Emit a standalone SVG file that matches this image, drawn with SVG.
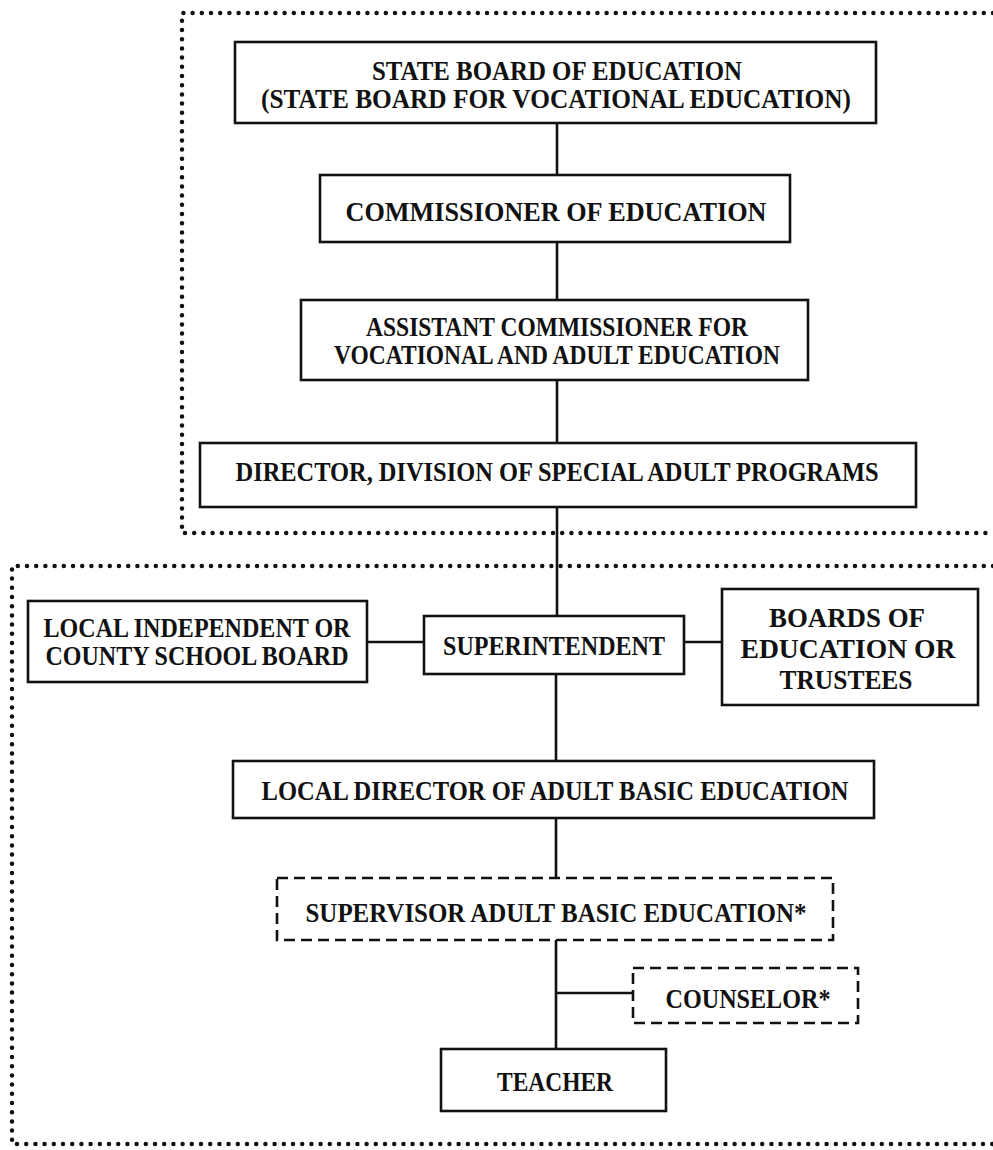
<svg xmlns="http://www.w3.org/2000/svg" width="993" height="1150" viewBox="0 0 993 1150">
<style>
.bg{fill:#fff}
.box{fill:#fff;stroke:#111;stroke-width:2.6}
.dbox{fill:#fff;stroke:#111;stroke-width:2.6;stroke-dasharray:11 6}
.dot{fill:none;stroke:#111;stroke-width:4.5;stroke-linecap:round;stroke-dasharray:0 9.2}
.ln{fill:none;stroke:#111;stroke-width:2.6}
text{font-family:"Liberation Serif","Times New Roman",serif;font-weight:bold;font-size:27px;fill:#111;text-anchor:middle}
.big{font-size:28px}
</style>
<rect class="bg" x="0" y="0" width="993" height="1150"/>
<g id="regions">
<path class="dot" d="M993 13 H182 V533 H993"/>
<path class="dot" d="M993 566 H12 V1144 H993"/>
</g>
<g id="connectors">
<line class="ln" x1="557" y1="123" x2="557" y2="175"/>
<line class="ln" x1="557" y1="242" x2="557" y2="300"/>
<line class="ln" x1="557" y1="380" x2="557" y2="443"/>
<line class="ln" x1="557" y1="507" x2="557" y2="616"/>
<line class="ln" x1="367" y1="642" x2="424" y2="642"/>
<line class="ln" x1="684" y1="642" x2="722" y2="642"/>
<line class="ln" x1="556" y1="674" x2="556" y2="761"/>
<line class="ln" x1="556" y1="818" x2="556" y2="878"/>
<line class="ln" x1="556" y1="940" x2="556" y2="1049"/>
<line class="ln" x1="556" y1="993" x2="633" y2="993"/>
</g>
<g id="state-board">
<rect class="box" x="235" y="42" width="641" height="81"/>
<text x="557" y="80" textLength="370" lengthAdjust="spacingAndGlyphs">STATE BOARD OF EDUCATION</text>
<text x="556" y="108" textLength="590" lengthAdjust="spacingAndGlyphs">(STATE BOARD FOR VOCATIONAL EDUCATION)</text>
</g>
<g id="commissioner">
<rect class="box" x="320" y="175" width="470" height="67"/>
<text x="556" y="221" textLength="421" lengthAdjust="spacingAndGlyphs">COMMISSIONER OF EDUCATION</text>
</g>
<g id="assistant-commissioner">
<rect class="box" x="301" y="300" width="507" height="80"/>
<text x="557" y="336" textLength="382" lengthAdjust="spacingAndGlyphs">ASSISTANT COMMISSIONER FOR</text>
<text x="557" y="364" textLength="446" lengthAdjust="spacingAndGlyphs">VOCATIONAL AND ADULT EDUCATION</text>
</g>
<g id="director">
<rect class="box" x="200" y="443" width="716" height="64"/>
<text x="557" y="481" textLength="643" lengthAdjust="spacingAndGlyphs">DIRECTOR, DIVISION OF SPECIAL ADULT PROGRAMS</text>
</g>
<g id="local-board">
<rect class="box" x="28" y="601" width="339" height="81"/>
<text x="197" y="637" textLength="307" lengthAdjust="spacingAndGlyphs">LOCAL INDEPENDENT OR</text>
<text x="197" y="665" textLength="303" lengthAdjust="spacingAndGlyphs">COUNTY SCHOOL BOARD</text>
</g>
<g id="superintendent">
<rect class="box" x="424" y="616" width="260" height="58"/>
<text x="554" y="655" textLength="222" lengthAdjust="spacingAndGlyphs">SUPERINTENDENT</text>
</g>
<g id="boards-trustees">
<rect class="box" x="722" y="589" width="256" height="116"/>
<text class="big" x="847" y="627" textLength="156" lengthAdjust="spacingAndGlyphs">BOARDS OF</text>
<text class="big" x="848" y="658" textLength="215" lengthAdjust="spacingAndGlyphs">EDUCATION OR</text>
<text class="big" x="846" y="689" textLength="133" lengthAdjust="spacingAndGlyphs">TRUSTEES</text>
</g>
<g id="local-director">
<rect class="box" x="233" y="761" width="641" height="57"/>
<text x="555" y="800" textLength="587" lengthAdjust="spacingAndGlyphs">LOCAL DIRECTOR OF ADULT BASIC EDUCATION</text>
</g>
<g id="supervisor">
<rect class="dbox" x="277" y="878" width="556" height="62"/>
<text x="556" y="922" textLength="501" lengthAdjust="spacingAndGlyphs">SUPERVISOR ADULT BASIC EDUCATION*</text>
</g>
<g id="counselor">
<rect class="dbox" x="633" y="968" width="225" height="55"/>
<text x="748" y="1008" textLength="165" lengthAdjust="spacingAndGlyphs">COUNSELOR*</text>
</g>
<g id="teacher">
<rect class="box" x="441" y="1049" width="225" height="62"/>
<text x="555" y="1091" textLength="116" lengthAdjust="spacingAndGlyphs">TEACHER</text>
</g>
</svg>
